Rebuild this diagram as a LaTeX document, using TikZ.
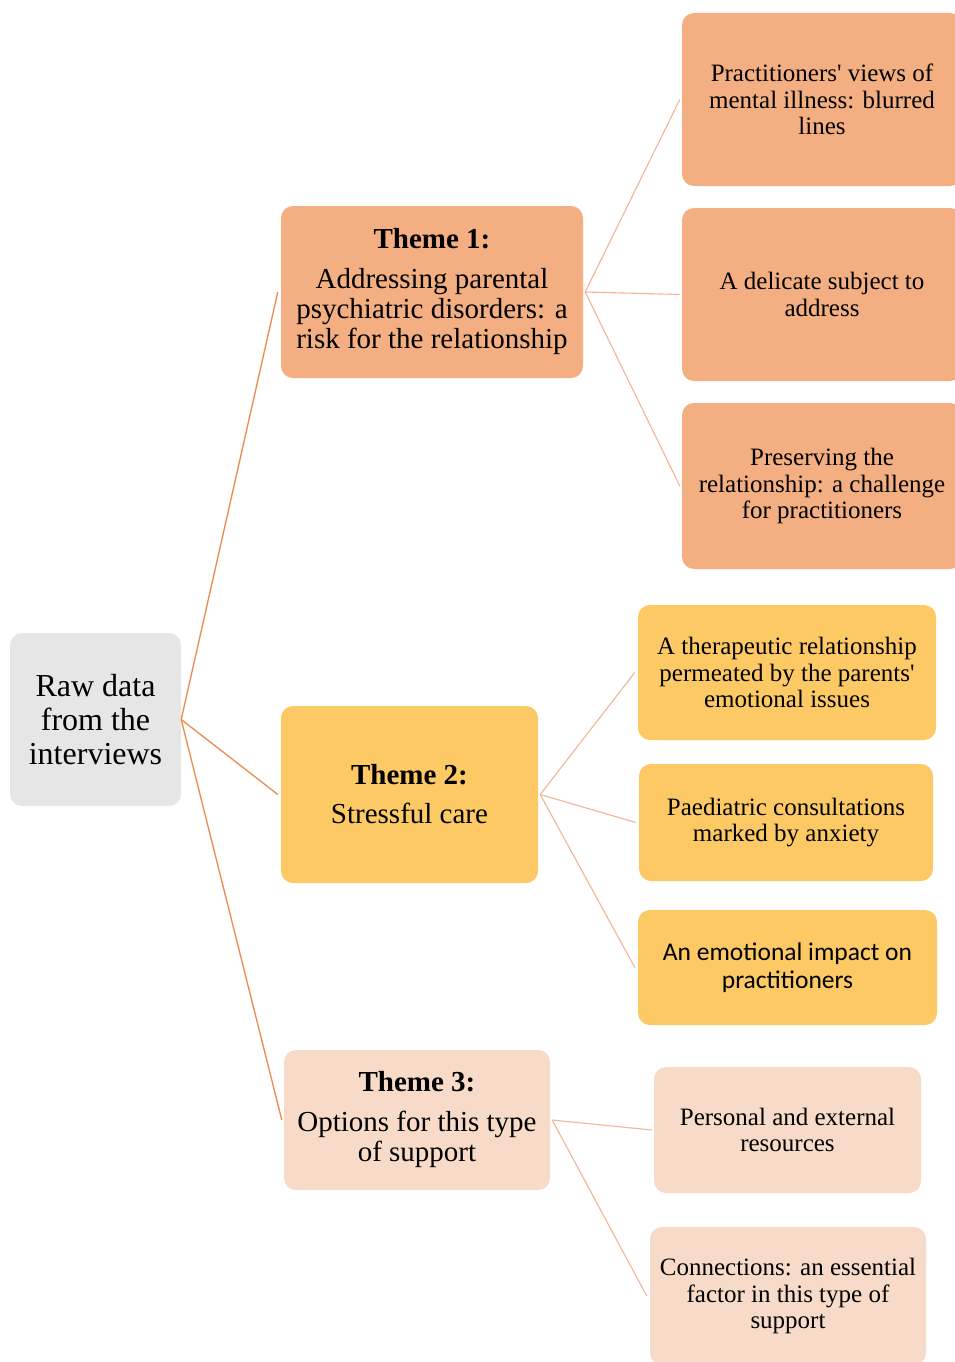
\documentclass[tikz,border=0pt]{standalone}
\usepackage{fontspec}
\setmainfont{Liberation Serif}[Ligatures=TeXOff]
\newfontfamily\sansf{Carlito}
\definecolor{greyfill}{HTML}{E7E6E6}
\definecolor{orfill}{HTML}{F3AF81}
\definecolor{goldfill}{HTML}{FCC965}
\definecolor{peachfill}{HTML}{F7DBC8}
\definecolor{rootline}{HTML}{EC8A4E}
\definecolor{subline}{HTML}{F2B596}
\tikzset{
  box/.style={rectangle, rounded corners=12pt, inner sep=0pt, align=center, draw=none},
  rootedge/.style={draw=rootline, line width=1.3pt},
  subedge/.style={draw=subline, line width=1.1pt},
  leaftext/.style={font=\fontsize{25}{26.5}\selectfont},
  themetext/.style={font=\fontsize{29}{30}\selectfont}
}
\begin{document}
\begin{tikzpicture}[x=1pt,y=-1pt]
\clip (0,0) rectangle (955,1362);
\fill[white] (0,0) rectangle (955,1362);
% root
\node[box, fill=greyfill, minimum width=171pt, minimum height=173pt, font=\fontsize{32}{34}\selectfont] (raw) at (95.5,719.5) {Raw data\\from the\\interviews};
% themes
\node[box, fill=orfill, minimum width=302pt, minimum height=172pt, themetext] (t1) at (432,292) {\textbf{Theme 1:}\\[10pt]Addressing parental\\psychiatric disorders: a\\risk for the relationship};
\node[box, fill=goldfill, minimum width=257pt, minimum height=177pt, themetext] (t2) at (409.5,794.5) {\textbf{Theme 2:}\\[9pt]Stressful care};
\node[box, fill=peachfill, minimum width=266pt, minimum height=140pt, themetext] (t3) at (417,1120) {\textbf{Theme 3:}\\[10pt]Options for this type\\of support};
% leaves theme 1
\node[box, fill=orfill, minimum width=280pt, minimum height=173pt, leaftext] (l1a) at (822,99.5) {Practitioners' views of\\mental illness: blurred\\lines};
\node[box, fill=orfill, minimum width=280pt, minimum height=173pt, leaftext] (l1b) at (822,294.5) {A delicate subject to\\address};
\node[box, fill=orfill, minimum width=280pt, minimum height=166pt, leaftext] (l1c) at (822,486) {Preserving the\\relationship: a challenge\\for practitioners};
% leaves theme 2
\node[box, fill=goldfill, minimum width=298pt, minimum height=135pt, leaftext] (l2a) at (787,672.5) {A therapeutic relationship\\permeated by the parents'\\emotional issues};
\node[box, fill=goldfill, minimum width=294pt, minimum height=117pt, leaftext] (l2b) at (786,822.5) {Paediatric consultations\\marked by anxiety};
\node[box, fill=goldfill, minimum width=299pt, minimum height=115pt, font=\sansf\fontsize{25.5}{28}\selectfont] (l2c) at (787.5,967.5) {An emotional impact on\\practitioners};
% leaves theme 3
\node[box, fill=peachfill, minimum width=267pt, minimum height=126pt, leaftext] (l3a) at (787.5,1130) {Personal and external\\resources};
\node[box, fill=peachfill, minimum width=276pt, minimum height=138pt, leaftext] (l3b) at (788,1296) {Connections: an essential\\factor in this type of\\support};
% connectors
\draw[rootedge] (raw.east) -- ([xshift=-3pt]t1.west);
\draw[rootedge] (raw.east) -- ([xshift=-3pt]t2.west);
\draw[rootedge] (raw.east) -- ([xshift=-2pt]t3.west);
\draw[subedge] ([xshift=2pt]t1.east) -- ([xshift=-2pt]l1a.west);
\draw[subedge] ([xshift=2pt]t1.east) -- ([xshift=-2pt]l1b.west);
\draw[subedge] ([xshift=2pt]t1.east) -- ([xshift=-2pt]l1c.west);
\draw[subedge] ([xshift=2pt]t2.east) -- ([xshift=-3pt]l2a.west);
\draw[subedge] ([xshift=2pt]t2.east) -- ([xshift=-3pt]l2b.west);
\draw[subedge] ([xshift=2pt]t2.east) -- ([xshift=-3pt]l2c.west);
\draw[subedge] ([xshift=2pt]t3.east) -- ([xshift=-2pt]l3a.west);
\draw[subedge] ([xshift=2pt]t3.east) -- ([xshift=-3pt]l3b.west);
\end{tikzpicture}
\end{document}
